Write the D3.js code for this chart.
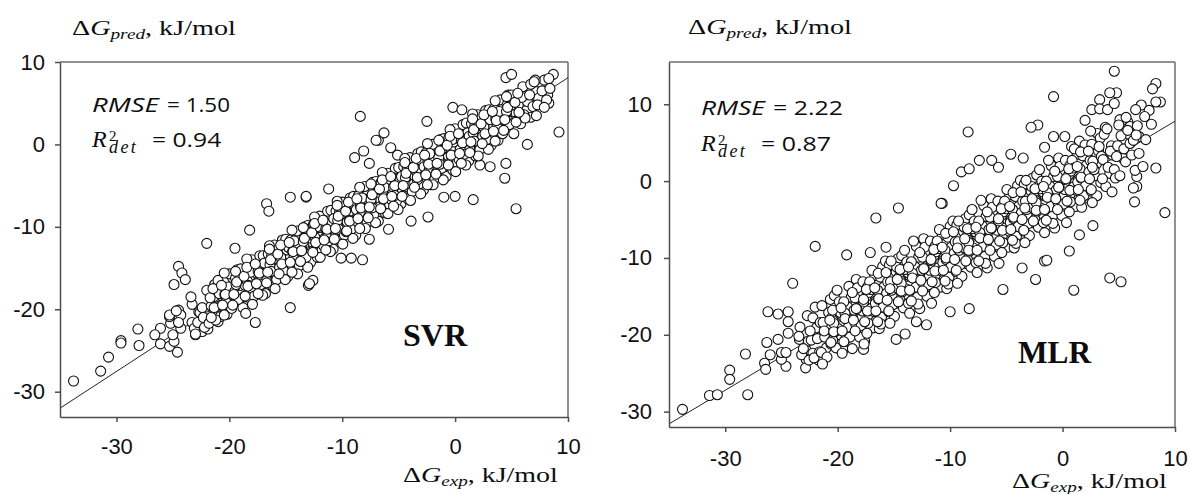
<!DOCTYPE html>
<html>
<head>
<meta charset="utf-8">
<script src="https://cdn.jsdelivr.net/npm/d3@7"></script>
<style>
  body { margin: 0; background: #fff; }
</style>
</head>
<body>
<svg id="chart" width="1189" height="494"></svg>
<script>
// Axis ticks shared by both panels
const xTicks = [-30, -20, -10, 0, 10];
const yTicks = [-30, -20, -10, 0, 10];

// Regression lines (endpoints across the plotted range)
const svrFitLine = [[-35, -32.0], [10, 8.1]];
const mlrFitLine = [[-35, -31.6], [10, 7.8]];

// Fit statistics
const svrStats = ["1.50", "0.94"];
const mlrStats = ["2.22", "0.87"];

// SVR: [ΔG_exp, ΔG_pred]
const svrPoints = [
  [-33.8,-28.7],[-31.4,-27.5],[-30.7,-25.8],[-29.6,-23.8],[-29.6,-24.1],[-28.1,-22.4],[-28.0,-24.4],
  [-26.1,-22.3],[-26.6,-23.1],[-26.1,-24.2],[-24.6,-25.2],[-25.3,-24.5],[-24.9,-23.9],[-25.0,-23.1],
  [-24.3,-22.3],[-25.2,-21.7],[-24.5,-20.1],[-24.3,-20.7],[-25.3,-20.9],[-24.5,-21.6],[-23.3,-21.6],
  [-22.7,-20.3],[-23.0,-23.1],[-22.4,-22.7],[-21.9,-22.4],[-21.0,-21.5],[-21.4,-20.5],[-17.7,-21.6],
  [-14.6,-19.8],[-22.0,-12.0],[-19.5,-12.6],[-18.2,-10.4],[-16.7,-7.2],[-16.5,-8.1],[-13.0,-17.1],
  [-12.6,-16.5],[-8.2,-14.0],[-9.2,-13.8],[-10.1,-13.8],[-2.4,-8.8],[-3.9,-9.3],[-5.9,-10.3],[-7.6,-11.5],
  [-24.5,-14.8],[-24.2,-15.6],[-23.9,-16.4],[-24.9,-17.0],[-25.3,-20.7],[-24.7,-20.2],[-14.6,-6.4],
  [-13.2,-6.4],[-11.2,-5.4],[-12.9,-16.9],[-8.4,3.4],[9.2,1.5],[6.4,0.0],[5.4,-7.8],[4.4,-4.1],[4.5,-2.3],
  [1.6,-6.7],[8.7,8.5],[7.9,7.8],[8.2,6.0],[8.3,5.0],[7.1,7.8],[4.5,8.1],[5.0,8.5],[-0.2,4.5],[0.6,4.2],
  [-2.5,2.8],[-13.2,-6.3],[-8.9,-1.6],[-8.1,-0.8],[-6.8,0.5],[-6.3,1.4],[-7.0,0.5],[-5.7,-0.4],[-5.1,-1.3],
  [-7.6,-2.3],[-1.0,-6.4],[0.0,-6.3],[3.1,-2.7],[2.2,-2.5],[6.7,5.8],[6.4,6.4],[7.2,6.4],[6.7,3.3],
  [5.8,2.9],[4.7,6.0],[3.9,5.0],
  [-22.6,-20.4],[-23.1,-22.3],[-23.3,-19.4],[-22.8,-21.6],[-23.4,-18.5],[-23.0,-23.0],
  [-22.4,-19.8],[-21.9,-20.9],[-21.7,-18.1],[-22.2,-22.2],[-21.6,-19.6],[-22.0,-17.7],[-22.3,-21.0],[-21.8,-21.7],
  [-20.6,-18.5],[-21.1,-19.7],[-21.3,-17.0],[-20.8,-20.9],[-21.4,-18.5],[-21.0,-16.5],[-20.7,-19.5],[-21.2,-21.3],[-20.9,-18.1],
  [-20.4,-18.2],[-19.9,-19.4],[-19.7,-16.2],[-20.2,-20.6],[-19.6,-17.5],[-20.0,-15.7],[-20.3,-19.1],[-19.8,-19.9],[-20.1,-17.3],[-19.55,-17.9],[-20.45,-15.6],
  [-18.6,-17.1],[-19.1,-18.3],[-19.3,-15.2],[-18.8,-19.8],[-19.4,-17.0],[-19.0,-15.1],[-18.7,-18.5],[-19.2,-18.8],[-18.9,-16.2],[-19.45,-16.2],[-18.55,-20.5],
  [-18.4,-16.6],[-17.9,-17.8],[-17.7,-14.7],[-18.2,-18.6],[-17.6,-15.6],[-18.0,-14.0],[-18.3,-17.1],[-17.8,-18.4],[-18.1,-15.5],[-17.55,-16.8],[-18.45,-13.9],[-17.95,-19.4],
  [-16.6,-15.2],[-17.1,-16.5],[-17.3,-13.5],[-16.8,-18.1],[-17.4,-15.1],[-17.0,-13.5],[-16.7,-16.5],[-17.2,-17.0],[-16.9,-14.4],[-17.45,-15.4],[-16.55,-13.3],[-17.05,-18.3],
  [-16.4,-14.6],[-15.9,-15.8],[-15.7,-12.8],[-16.2,-17.1],[-15.6,-14.0],[-16.0,-12.2],[-16.3,-15.4],[-15.8,-16.4],[-16.1,-13.9],[-15.55,-14.9],[-16.45,-12.3],[-15.95,-17.5],[-16.25,-13.5],
  [-14.6,-13.6],[-15.1,-15.0],[-15.3,-11.6],[-14.8,-16.0],[-15.4,-13.2],[-15.0,-11.5],[-14.7,-14.9],[-15.2,-15.3],[-14.9,-12.8],[-15.45,-13.7],[-14.55,-11.6],[-15.05,-16.4],[-14.75,-12.5],
  [-14.4,-13.0],[-13.9,-13.9],[-13.7,-11.0],[-14.2,-15.4],[-13.6,-12.2],[-14.0,-10.5],[-14.3,-13.8],[-13.8,-14.7],[-14.1,-12.0],[-13.55,-12.9],[-14.45,-10.4],[-13.95,-15.7],[-14.25,-11.7],[-13.65,-14.1],
  [-12.6,-11.9],[-13.1,-13.4],[-13.3,-10.0],[-12.8,-14.3],[-13.4,-11.6],[-13.0,-9.8],[-12.7,-13.0],[-13.2,-13.7],[-12.9,-10.9],[-13.45,-11.8],[-12.55,-9.7],[-13.05,-14.9],[-12.75,-11.4],[-13.35,-10.2],
  [-12.4,-11.3],[-11.9,-12.1],[-11.7,-9.3],[-12.2,-13.7],[-11.6,-10.2],[-12.0,-8.7],[-12.3,-11.9],[-11.8,-12.9],[-12.1,-10.1],[-11.55,-11.4],[-12.45,-8.8],[-11.95,-13.7],[-12.25,-10.0],[-11.65,-12.3],
  [-10.6,-10.2],[-11.1,-11.4],[-11.3,-8.1],[-10.8,-12.7],[-11.4,-9.6],[-11.0,-8.0],[-10.7,-11.3],[-11.2,-11.7],[-10.9,-9.5],[-11.45,-10.2],[-10.55,-8.1],[-11.05,-13.0],[-10.75,-9.0],[-11.35,-11.3],
  [-10.4,-9.2],[-9.9,-10.4],[-9.7,-7.4],[-10.2,-11.6],[-9.6,-9.0],[-10.0,-7.0],[-10.3,-10.3],[-9.8,-11.0],[-10.1,-8.5],[-9.55,-9.4],[-10.45,-6.9],[-9.95,-12.1],[-10.25,-8.3],[-9.65,-10.6],
  [-8.6,-8.6],[-9.1,-9.7],[-9.3,-6.5],[-8.8,-11.0],[-9.4,-7.7],[-9.0,-6.3],[-8.7,-9.3],[-9.2,-10.3],[-8.9,-7.4],[-9.45,-8.3],[-8.55,-6.2],[-9.05,-11.4],[-8.75,-7.9],[-9.35,-9.2],
  [-8.4,-7.5],[-7.9,-8.8],[-7.7,-5.8],[-8.2,-9.9],[-7.6,-7.1],[-8.0,-5.1],[-8.3,-8.6],[-7.8,-9.5],[-8.1,-6.6],[-7.55,-7.7],[-8.45,-5.2],[-7.95,-10.2],[-8.25,-6.5],[-7.65,-8.7],
  [-6.6,-6.7],[-7.1,-7.7],[-7.3,-4.6],[-6.8,-9.3],[-7.4,-6.3],[-7.0,-4.5],[-6.7,-7.6],[-7.2,-8.5],[-6.9,-5.8],[-7.45,-6.7],[-6.55,-4.6],[-7.05,-9.5],[-6.75,-5.5],[-7.35,-7.7],
  [-6.4,-5.6],[-5.9,-7.2],[-5.7,-3.9],[-6.2,-8.3],[-5.6,-5.2],[-6.0,-3.5],[-6.3,-6.9],[-5.8,-7.3],[-6.1,-4.8],[-5.55,-5.9],[-6.45,-3.4],[-5.95,-8.4],[-6.25,-5.2],[-5.65,-6.7],
  [-4.6,-5.2],[-5.1,-6.0],[-5.3,-2.9],[-4.8,-7.2],[-5.4,-4.1],[-5.0,-2.8],[-4.7,-5.8],[-5.2,-6.9],[-4.9,-4.1],[-5.45,-5.2],[-4.55,-2.7],[-5.05,-7.9],[-4.75,-3.9],[-5.35,-6.2],
  [-4.4,-4.0],[-3.9,-5.3],[-3.7,-2.3],[-4.2,-6.6],[-3.6,-3.8],[-4.0,-1.6],[-4.3,-5.1],[-3.8,-5.7],[-4.1,-3.1],[-3.55,-3.9],[-4.45,-1.7],[-3.95,-6.8],[-4.25,-2.9],[-3.65,-4.8],
  [-2.6,-3.3],[-3.1,-4.4],[-3.3,-1.1],[-2.8,-5.5],[-3.4,-2.5],[-3.0,-0.9],[-2.7,-4.1],[-3.2,-4.8],[-2.9,-2.1],[-3.45,-3.2],[-2.55,-1.0],[-3.05,-6.0],[-2.75,-2.7],[-3.35,-4.3],
  [-2.4,-2.1],[-1.9,-3.3],[-1.7,-0.4],[-2.2,-4.9],[-1.6,-1.8],[-2.0,0.0],[-2.3,-3.1],[-1.8,-4.1],[-2.1,-1.4],[-1.55,-2.3],[-2.45,0.1],[-1.95,-4.9],[-2.25,-1.1],[-1.65,-3.4],
  [-0.6,-1.4],[-1.1,-2.8],[-1.3,0.6],[-0.8,-3.9],[-1.4,-1.0],[-1.0,0.7],[-0.7,-2.5],[-1.2,-2.9],[-0.9,-0.5],[-1.45,-1.6],[-0.55,0.8],[-1.05,-4.3],[-0.75,-0.4],[-1.35,-2.4],
  [-0.4,-0.5],[0.1,-1.6],[0.3,1.3],[-0.2,-3.1],[0.4,0.1],[0.0,1.9],[-0.3,-1.6],[0.2,-2.2],[-0.1,0.3],[0.45,-0.6],[-0.45,1.8],[0.05,-3.3],[-0.25,0.6],[0.35,-1.8],
  [1.4,0.2],[0.9,-0.9],[0.7,2.4],[1.2,-2.0],[0.6,1.0],[1.0,2.6],[1.3,-0.6],[0.8,-1.2],[1.1,1.4],[0.55,0.4],[1.45,2.5],[0.95,-2.5],[1.25,1.0],
  [1.6,1.4],[2.1,0.2],[2.3,3.1],[1.8,-1.4],[2.4,1.6],[2.0,3.6],[1.7,0.4],[2.2,-0.6],[1.9,2.2],[2.45,1.0],[1.55,3.7],[2.05,-1.4],[1.75,2.3],
  [3.4,2.1],[2.9,0.9],[2.7,4.1],[3.2,-0.1],[2.6,2.7],[3.0,4.2],[3.3,1.0],[2.8,0.6],[3.1,3.0],[2.55,2.1],[3.45,4.3],[2.95,-0.6],
  [3.6,3.1],[4.1,1.6],[4.3,4.8],[3.8,0.5],[4.4,3.5],[4.0,5.4],[3.7,2.1],[4.2,1.3],[3.9,4.0],[4.45,2.9],[3.55,5.3],
  [5.4,3.8],[4.9,2.8],[4.7,5.9],[5.2,1.3],[4.6,4.8],[5.0,6.0],[5.3,2.8],[4.8,2.4],[5.1,4.8],[4.55,4.0],
  [5.6,4.8],[6.1,3.6],[6.3,6.6],[5.8,2.5],[6.4,5.2],[6.0,7.0],[5.7,3.8],[6.2,3.2],[5.9,5.7],
  [7.4,5.6],[6.9,4.6],[6.7,7.3],[7.2,3.5],[6.6,6.0],[7.0,7.6],[7.3,4.8],
  [7.7,6.5],[8.1,5.4],[8.3,8.0],[7.9,4.5],[8.4,6.8],
  [-21.6,-21.0],[-21.35,-19.8],[-21.7,-18.6],[-21.45,-17.5],
  [-20.6,-19.5],[-20.35,-18.2],[-20.7,-17.1],[-20.45,-20.7],
  [-19.6,-18.2],[-19.35,-16.7],[-19.7,-19.5],[-19.45,-15.4],
  [-18.6,-18.4],[-18.35,-17.2],[-18.7,-16.0],[-18.45,-14.9],
  [-17.6,-16.9],[-17.35,-15.6],[-17.7,-14.5],[-17.45,-18.1],
  [-16.6,-15.5],[-16.35,-14.0],[-16.7,-16.8],[-16.45,-12.7],
  [-15.6,-15.7],[-15.35,-14.5],[-15.7,-13.3],[-15.45,-12.2],
  [-14.6,-14.3],[-14.35,-13.0],[-14.7,-11.9],[-14.45,-15.5],
  [-13.6,-12.9],[-13.35,-11.4],[-13.7,-14.2],[-13.45,-10.1],
  [-12.6,-13.1],[-12.35,-11.9],[-12.7,-10.7],[-12.45,-9.6],
  [-11.6,-11.6],[-11.35,-10.3],[-11.7,-9.2],[-11.45,-12.8],
  [-10.6,-10.2],[-10.35,-8.7],[-10.7,-11.5],[-10.45,-7.4],
  [-9.6,-10.5],[-9.35,-9.3],[-9.7,-8.1],[-9.45,-7.0],
  [-8.6,-9.0],[-8.35,-7.7],[-8.7,-6.6],[-8.45,-10.2],
  [-7.6,-7.6],[-7.35,-6.1],[-7.7,-8.9],[-7.45,-4.8],
  [-6.6,-7.8],[-6.35,-6.6],[-6.7,-5.4],[-6.45,-4.3],
  [-5.6,-6.3],[-5.35,-5.0],[-5.7,-3.9],[-5.45,-7.5],
  [-4.6,-5.0],[-4.35,-3.5],[-4.7,-6.3],[-4.45,-2.2],
  [-3.6,-5.2],[-3.35,-4.0],[-3.7,-2.8],[-3.45,-1.7],
  [-2.6,-3.7],[-2.35,-2.4],[-2.7,-1.3],[-2.45,-4.9],
  [-1.6,-2.3],[-1.35,-0.8],[-1.7,-3.6],[-1.45,0.5],
  [-0.6,-2.5],[-0.35,-1.3],[-0.7,-0.1],[-0.45,1.0],
  [0.4,-1.1],[0.65,0.2],[0.3,1.3],[0.55,-2.3],
  [1.4,0.3],[1.65,1.8],[1.3,-1.0],[1.55,3.1],
  [2.4,0.1],[2.65,1.3],[2.3,2.5],[2.55,3.6],
  [3.4,1.6],[3.65,2.9],[3.3,4.0],[3.55,0.4],
  [4.4,3.0],[4.65,4.5],[4.3,1.7],[4.55,5.8],
  [5.4,2.7],[5.65,3.9],[5.3,5.1],[5.55,6.2]
];

// MLR: [ΔG_exp, ΔG_pred]
const mlrPoints = [
  [-33.8,-29.7],[-31.4,-27.9],[-30.7,-27.8],[-29.6,-24.6],[-29.6,-25.8],[-28.2,-22.5],[-28.0,-27.8],
  [-26.5,-23.7],[-26.4,-24.5],[-26.2,-17.0],[-26.3,-21.0],[-26.0,-22.6],[-25.3,-17.3],[-24.4,-17.0],
  [-24.4,-18.3],[-24.6,-24.1],[-25.0,-23.2],[-25.0,-22.3],[-24.6,-22.3],[-25.3,-20.6],[-24.4,-19.8],
  [-23.4,-20.6],[-22.8,-23.2],[-22.8,-22.0],[-22.2,-22.4],[-21.0,-21.7],[-19.5,-21.9],[-17.7,-21.9],
  [-17.6,-20.8],[-14.8,-20.6],[-24.0,-13.3],[-22.0,-8.5],[-19.2,-9.6],[-16.6,-4.8],[-14.6,-3.5],
  [-17.1,-9.3],[-15.7,-8.6],[-10.7,-2.9],[-14.0,-19.9],[-12.1,-18.7],[-13.0,-18.3],[-10.0,-17.0],
  [-8.3,-16.6],[-5.3,-14.1],[-2.4,-12.8],[-3.6,-11.3],[-1.6,-10.4],[-1.4,-10.3],[0.6,-9.1],[1.0,-14.2],
  [1.5,-7.0],[2.7,-5.8],[4.2,-12.6],[5.2,-13.1],
  [4.6,14.3],[-0.8,11.0],[-8.4,6.4],[9.1,-4.1],[8.3,1.7],[8.3,12.7],[8.0,12.0],[8.7,10.3],[8.3,10.3],
  [7.0,9.9],[7.7,9.2],[6.5,9.3],[7.9,7.4],[4.8,11.5],[4.2,11.5],[3.3,10.6],[2.6,9.3],[3.3,9.4],[4.0,9.3],
  [4.6,10.1],[5.1,8.0],[5.8,7.7],[5.7,6.8],[6.6,0.6],[6.6,-0.7],[6.8,5.8],[-0.8,5.8],[0.2,5.8],[-2.2,7.3],
  [-2.8,7.0],[-7.4,2.7],[-6.3,2.7],[-5.7,1.8],[-9.0,1.2],[-8.3,1.6],[-9.7,-0.6],[-10.8,-2.9],[4.9,4.0],
  [3.1,6.2],[2.0,7.9],[6.4,-2.7],[6.3,-0.9],[1.5,5.2],[2.5,6.5],[5.5,5.0],[3.8,7.0],[0.8,4.5],[-1.6,4.4],
  [-3.5,3.0],[-4.6,3.5],[6.0,7.1],[7.3,8.4],
  [-22.6,-20.8],[-23.2,-22.6],[-23.35,-19.0],[-22.85,-24.3],[-23.45,-20.2],[-22.7,-17.5],[-23.05,-21.8],[-22.55,-23.3],
  [-22.35,-20.7],[-21.9,-19.1],[-21.6,-22.2],[-22.2,-17.8],[-21.7,-23.3],[-22.45,-19.5],[-22.0,-16.4],[-21.8,-20.5],[-22.1,-23.0],[-21.55,-18.4],
  [-21.0,-18.8],[-20.6,-21.2],[-21.3,-18.4],[-21.45,-22.3],[-20.8,-17.1],[-21.15,-20.3],[-20.65,-15.4],[-21.4,-16.2],[-20.95,-22.9],[-21.2,-19.5],[-20.55,-17.8],[-21.35,-23.8],
  [-20.4,-18.2],[-19.8,-20.0],[-19.65,-16.4],[-20.15,-21.7],[-19.55,-17.6],[-20.3,-14.9],[-19.95,-19.2],[-20.45,-20.7],[-19.75,-17.1],[-20.05,-14.2],[-19.6,-22.4],[-20.25,-19.6],[-19.85,-15.7],[-20.35,-18.5],
  [-18.65,-18.0],[-19.1,-16.4],[-19.4,-19.5],[-18.8,-15.1],[-19.3,-20.6],[-18.55,-16.8],[-19.0,-13.7],[-19.2,-17.8],[-18.9,-20.3],[-19.45,-15.7],[-18.7,-21.8],[-19.35,-17.2],[-18.6,-14.6],[-19.05,-19.0],
  [-18.0,-16.2],[-18.4,-18.6],[-17.7,-15.8],[-17.55,-19.7],[-18.2,-14.5],[-17.85,-17.7],[-18.35,-12.8],[-17.6,-13.6],[-18.05,-20.3],[-17.8,-16.9],[-18.45,-15.2],[-17.65,-21.2],[-18.25,-13.9],[-17.9,-18.8],[-18.3,-16.6],[-17.75,-13.1],
  [-16.6,-15.6],[-17.2,-17.4],[-17.35,-13.8],[-16.85,-19.1],[-17.45,-15.0],[-16.7,-12.3],[-17.05,-16.6],[-16.55,-18.1],[-17.25,-14.5],[-16.95,-11.6],[-17.4,-19.8],[-16.75,-17.0],[-17.15,-13.1],[-16.65,-15.9],[-17.3,-18.5],[-17.0,-14.1],
  [-16.35,-15.4],[-15.9,-13.8],[-15.6,-16.9],[-16.2,-12.5],[-15.7,-18.0],[-16.45,-14.2],[-16.0,-11.1],[-15.8,-15.2],[-16.1,-17.7],[-15.55,-13.1],[-16.3,-19.2],[-15.65,-14.6],[-16.4,-12.0],[-15.95,-16.4],[-15.75,-10.4],[-16.15,-18.6],
  [-15.0,-13.5],[-14.6,-15.9],[-15.3,-13.1],[-15.45,-17.0],[-14.8,-11.8],[-15.15,-15.0],[-14.65,-10.1],[-15.4,-10.9],[-14.95,-17.6],[-15.2,-14.2],[-14.55,-12.5],[-15.35,-18.5],[-14.75,-11.2],[-15.1,-16.1],[-14.7,-13.9],[-15.25,-10.4],
  [-14.4,-13.0],[-13.8,-14.8],[-13.65,-11.2],[-14.15,-16.5],[-13.55,-12.4],[-14.3,-9.7],[-13.95,-14.0],[-14.45,-15.5],[-13.75,-11.9],[-14.05,-9.0],[-13.6,-17.2],[-14.25,-14.4],[-13.85,-10.5],[-14.35,-13.3],[-13.7,-15.9],[-14.0,-11.5],
  [-12.65,-12.8],[-13.1,-11.2],[-13.4,-14.3],[-12.8,-9.9],[-13.3,-15.4],[-12.55,-11.6],[-13.0,-8.5],[-13.2,-12.6],[-12.9,-15.1],[-13.45,-10.5],[-12.7,-16.6],[-13.35,-12.0],[-12.6,-9.4],[-13.05,-13.8],[-13.25,-7.8],[-12.85,-16.0],
  [-12.0,-10.9],[-12.4,-13.3],[-11.7,-10.5],[-11.55,-14.4],[-12.2,-9.2],[-11.85,-12.4],[-12.35,-7.5],[-11.6,-8.3],[-12.05,-15.0],[-11.8,-11.6],[-12.45,-9.9],[-11.65,-15.9],[-12.25,-8.6],[-11.9,-13.5],[-12.3,-11.3],[-11.75,-7.8],
  [-10.6,-10.3],[-11.2,-12.1],[-11.35,-8.5],[-10.85,-13.8],[-11.45,-9.7],[-10.7,-7.0],[-11.05,-11.3],[-10.55,-12.8],[-11.25,-9.2],[-10.95,-6.3],[-11.4,-14.5],[-10.75,-11.7],[-11.15,-7.8],[-10.65,-10.6],[-11.3,-13.2],[-11.0,-8.8],
  [-10.35,-10.2],[-9.9,-8.6],[-9.6,-11.7],[-10.2,-7.3],[-9.7,-12.8],[-10.45,-9.0],[-10.0,-5.9],[-9.8,-10.0],[-10.1,-12.5],[-9.55,-7.9],[-10.3,-14.0],[-9.65,-9.4],[-10.4,-6.8],[-9.95,-11.2],[-9.75,-5.2],[-10.15,-13.4],
  [-9.0,-8.3],[-8.6,-10.7],[-9.3,-7.9],[-9.45,-11.8],[-8.8,-6.6],[-9.15,-9.8],[-8.65,-4.9],[-9.4,-5.7],[-8.95,-12.4],[-9.2,-9.0],[-8.55,-7.3],[-9.35,-13.3],[-8.75,-6.0],[-9.1,-10.9],[-8.7,-8.7],[-9.25,-5.2],
  [-8.4,-7.7],[-7.8,-9.5],[-7.65,-5.9],[-8.15,-11.2],[-7.55,-7.1],[-8.3,-4.4],[-7.95,-8.7],[-8.45,-10.2],[-7.75,-6.6],[-8.05,-3.7],[-7.6,-11.9],[-8.25,-9.1],[-7.85,-5.2],[-8.35,-8.0],[-7.7,-10.6],[-8.0,-6.2],
  [-6.65,-7.5],[-7.1,-5.9],[-7.4,-9.0],[-6.8,-4.6],[-7.3,-10.1],[-6.55,-6.3],[-7.0,-3.2],[-7.2,-7.3],[-6.9,-9.8],[-7.45,-5.2],[-6.7,-11.3],[-7.35,-6.7],[-6.6,-4.1],[-7.05,-8.5],[-7.25,-2.5],[-6.85,-10.7],
  [-6.0,-5.7],[-6.4,-8.1],[-5.7,-5.3],[-5.55,-9.2],[-6.2,-4.0],[-5.85,-7.2],[-6.35,-2.3],[-5.6,-3.1],[-6.05,-9.8],[-5.8,-6.4],[-6.45,-4.7],[-5.65,-10.7],[-6.25,-3.4],[-5.9,-8.3],[-6.3,-6.1],[-5.75,-2.6],
  [-4.6,-5.1],[-5.2,-6.9],[-5.35,-3.3],[-4.85,-8.6],[-5.45,-4.5],[-4.7,-1.8],[-5.05,-6.1],[-4.55,-7.6],[-5.25,-4.0],[-4.95,-1.1],[-5.4,-9.3],[-4.75,-6.5],[-5.15,-2.6],[-4.65,-5.4],[-5.3,-8.0],[-5.0,-3.6],
  [-4.35,-4.9],[-3.9,-3.3],[-3.6,-6.4],[-4.2,-2.0],[-3.7,-7.5],[-4.45,-3.7],[-4.0,-0.6],[-3.8,-4.7],[-4.1,-7.2],[-3.55,-2.6],[-4.3,-8.7],[-3.65,-4.1],[-4.4,-1.5],[-3.95,-5.9],[-3.75,0.1],[-4.15,-8.1],
  [-3.0,-3.0],[-2.6,-5.4],[-3.3,-2.6],[-3.45,-6.5],[-2.8,-1.3],[-3.15,-4.5],[-2.65,0.4],[-3.4,-0.4],[-2.95,-7.1],[-3.2,-3.7],[-2.55,-2.0],[-3.35,-8.0],[-2.75,-0.7],[-3.1,-5.6],[-2.7,-3.4],[-3.25,0.1],
  [-2.4,-2.5],[-1.8,-4.3],[-1.65,-0.7],[-2.15,-6.0],[-1.55,-1.9],[-2.3,0.8],[-1.95,-3.5],[-2.45,-5.0],[-1.75,-1.4],[-2.05,1.5],[-1.6,-6.7],[-2.25,-3.9],[-1.85,0.0],[-2.35,-2.8],[-1.7,-5.4],[-2.0,-1.0],
  [-0.65,-2.3],[-1.1,-0.7],[-1.4,-3.8],[-0.8,0.6],[-1.3,-4.9],[-0.55,-1.1],[-1.0,2.0],[-1.2,-2.1],[-0.9,-4.6],[-1.45,0.0],[-0.7,-6.1],[-1.35,-1.5],[-0.6,1.1],[-1.05,-3.3],[-1.25,2.7],[-0.85,-5.5],
  [0.0,-0.4],[-0.4,-2.8],[0.3,0.0],[0.45,-3.9],[-0.2,1.3],[0.15,-1.9],[-0.35,3.0],[0.4,2.2],[-0.05,-4.5],[0.2,-1.1],[-0.45,0.6],[0.35,-5.4],[-0.25,1.9],[0.1,-3.0],[-0.3,-0.8],[0.25,2.7],
  [1.4,0.2],[0.8,-1.6],[0.65,2.0],[1.15,-3.3],[0.55,0.8],[1.3,3.5],[0.95,-0.8],[1.45,-2.3],[0.75,1.3],[1.05,4.2],[0.6,-4.0],[1.25,-1.2],[0.85,2.7],[1.35,-0.1],[0.7,-2.7],[1.0,1.7],
  [1.65,0.4],[2.1,2.0],[2.4,-1.1],[1.8,3.3],[2.3,-2.2],[1.55,1.6],[2.0,4.7],[2.2,0.6],[1.9,-1.9],[2.45,2.7],[1.7,-3.4],[2.35,1.2],[1.6,3.8],[2.05,-0.6],
  [3.0,2.2],[3.4,-0.2],[2.7,2.6],[2.55,-1.3],[3.2,3.9],[2.85,0.7],[3.35,5.6],[2.6,4.8],[3.05,-1.9],[2.8,1.5],[3.45,3.2],[2.65,-2.8],[3.25,4.5],
  [3.6,2.8],[4.2,1.0],[4.35,4.6],[3.85,-0.7],[4.45,3.4],[3.7,6.1],[4.05,1.8],[3.55,0.3],[4.25,3.9],[3.95,6.8],[4.4,-1.4],
  [5.35,3.0],[4.9,4.6],[4.6,1.5],[5.2,5.9],[4.7,0.4],[5.45,4.2],[5.0,7.3],[4.8,3.2],[5.1,0.7],
  [6.0,4.9],[5.6,2.5],[6.3,5.3],[6.45,1.4],[5.8,6.6],[6.15,3.4],[5.65,8.3],
  [7.4,5.4],[6.8,3.6],[6.65,7.2],[7.15,1.9],[6.55,6.0],
  [-20.6,-21.0],[-20.35,-19.6],[-20.7,-18.1],[-20.45,-16.8],
  [-19.6,-19.5],[-19.35,-17.9],[-19.7,-16.5],[-19.45,-20.9],
  [-18.6,-18.1],[-18.35,-16.6],[-18.7,-14.5],[-18.45,-19.5],
  [-17.6,-18.3],[-17.35,-16.9],[-17.7,-15.4],[-17.45,-14.1],
  [-16.6,-16.9],[-16.35,-15.3],[-16.7,-13.9],[-16.45,-18.3],
  [-15.6,-15.5],[-15.35,-14.0],[-15.7,-11.9],[-15.45,-16.9],
  [-14.6,-15.7],[-14.35,-14.3],[-14.7,-12.8],[-14.45,-11.5],
  [-13.6,-14.2],[-13.35,-12.6],[-13.7,-11.2],[-13.45,-15.6],
  [-12.6,-12.9],[-12.35,-11.4],[-12.7,-9.3],[-12.45,-14.3],
  [-11.6,-13.1],[-11.35,-11.7],[-11.7,-10.2],[-11.45,-8.9],
  [-10.6,-11.6],[-10.35,-10.0],[-10.7,-8.6],[-10.45,-13.0],
  [-9.6,-10.2],[-9.35,-8.7],[-9.7,-6.6],[-9.45,-11.6],
  [-8.6,-10.4],[-8.35,-9.0],[-8.7,-7.5],[-8.45,-6.2],
  [-7.6,-9.0],[-7.35,-7.4],[-7.7,-6.0],[-7.45,-10.4],
  [-6.6,-7.6],[-6.35,-6.1],[-6.7,-4.0],[-6.45,-9.0],
  [-5.6,-7.8],[-5.35,-6.4],[-5.7,-4.9],[-5.45,-3.6],
  [-4.6,-6.3],[-4.35,-4.7],[-4.7,-3.3],[-4.45,-7.7],
  [-3.6,-5.0],[-3.35,-3.5],[-3.7,-1.4],[-3.45,-6.4],
  [-2.6,-5.2],[-2.35,-3.8],[-2.7,-2.3],[-2.45,-1.0],
  [-1.6,-3.7],[-1.35,-2.1],[-1.7,-0.7],[-1.45,-5.1],
  [-0.6,-2.3],[-0.35,-0.8],[-0.7,1.3],[-0.45,-3.7],
  [0.4,-2.6],[0.65,-1.2],[0.3,0.3],[0.55,1.6],
  [1.4,-1.1],[1.65,0.5],[1.3,1.9],[1.55,-2.5],
  [2.4,0.3],[2.65,1.8],[2.3,3.9],[2.55,-1.1]
];

const svg = d3.select("#chart");
const AXIS = "#4d4d4d";
const FRAME = "#6e6e6e";
const INK = "#0d0d0d";
const STAT_FONT = "Open Sans, Calibri, sans-serif";

// Stretch a text element horizontally so that it spans [x, x + width]
function fitText(sel, x, width) {
  const w = sel.node().getBBox().width;
  sel.attr("x", 0).attr("transform", `translate(${x},0) scale(${width / w},1)`);
}

// "ΔG_sub, kJ/mol" axis caption
function deltaGLabel(x, y, width, sub) {
  const t = svg.append("text")
    .attr("y", y)
    .attr("font-family", "Liberation Serif, Times New Roman, serif")
    .attr("font-size", 22)
    .attr("fill", INK);
  t.append("tspan").text("Δ");
  t.append("tspan").attr("font-style", "italic").text("G");
  t.append("tspan").attr("font-style", "italic").attr("font-size", 15).attr("dy", 4).text(sub);
  t.append("tspan").attr("dy", -4).text(", kJ/mol");
  fitText(t, x, width);
}

function drawPanel(cfg) {
  const x = d3.scaleLinear().domain([-35, 10]).range([cfg.left, cfg.right]);
  const y = d3.scaleLinear().domain(cfg.yDomain).range([cfg.bottom, cfg.top]);
  const g = svg.append("g");

  // top and right frame
  g.append("line")
    .attr("x1", cfg.left).attr("x2", cfg.right)
    .attr("y1", cfg.top).attr("y2", cfg.top)
    .attr("stroke", FRAME).attr("stroke-width", 1.5);
  g.append("line")
    .attr("x1", cfg.right).attr("x2", cfg.right)
    .attr("y1", cfg.top).attr("y2", cfg.bottom)
    .attr("stroke", FRAME).attr("stroke-width", 1.5);

  // regression line
  g.append("path")
    .datum(cfg.fit)
    .attr("d", d3.line().x(d => x(d[0])).y(d => y(d[1])))
    .attr("fill", "none")
    .attr("stroke", "#222")
    .attr("stroke-width", 1);

  // data points
  g.append("g").selectAll("circle")
    .data(cfg.points)
    .join("circle")
    .attr("cx", d => x(d[0]))
    .attr("cy", d => y(d[1]))
    .attr("r", 5)
    .attr("fill", "#fff")
    .attr("stroke", "#111")
    .attr("stroke-width", 1.1);

  const fmt = d => String(d);

  const xa = g.append("g")
    .attr("transform", `translate(0,${cfg.bottom})`)
    .call(d3.axisBottom(x).tickValues(xTicks).tickSize(5).tickSizeOuter(0)
      .tickPadding(cfg.xPad).tickFormat(fmt));
  const ya = g.append("g")
    .attr("transform", `translate(${cfg.left},0)`)
    .call(d3.axisLeft(y).tickValues(yTicks).tickSize(5).tickSizeOuter(0)
      .tickPadding(cfg.yPad).tickFormat(fmt));

  [xa, ya].forEach(a => {
    a.select(".domain").attr("stroke", AXIS).attr("stroke-width", 1.5);
    a.selectAll(".tick line").attr("stroke", AXIS).attr("stroke-width", 1.5);
    a.selectAll(".tick text")
      .attr("font-family", "Liberation Sans, Arial, sans-serif")
      .attr("font-size", 22)
      .attr("fill", "#111");
  });

  // statistics block
  const s = cfg.stats;
  const rm = svg.append("text").attr("y", s.y1)
    .attr("font-family", STAT_FONT).attr("font-size", 20)
    .attr("font-style", "italic").attr("fill", INK).text("RMSE");
  fitText(rm, s.x, s.rmseW);
  const rv = svg.append("text").attr("y", s.y1)
    .attr("font-family", STAT_FONT).attr("font-size", 20)
    .attr("fill", INK).text("= " + cfg.values[0]);
  fitText(rv, s.eq1, s.eq1W);

  // R² with "det" subscript stacked under the exponent
  const rt = svg.append("text").attr("x", s.x).attr("y", s.y2)
    .attr("font-family", "Liberation Serif, serif").attr("fill", INK);
  rt.append("tspan").attr("font-size", 24).attr("font-style", "italic").text("R");
  rt.append("tspan").attr("x", s.x + 17).attr("dy", -6).attr("font-size", 15).text("2");
  rt.append("tspan").attr("x", s.x + 17).attr("dy", 12).attr("font-size", 18)
    .attr("font-style", "italic").attr("letter-spacing", 2.4).text("det");

  const r2 = svg.append("text").attr("y", s.y2)
    .attr("font-family", STAT_FONT).attr("font-size", 20)
    .attr("fill", INK).text("= " + cfg.values[1]);
  fitText(r2, s.x + 60, 70);

  // model name
  const nm = svg.append("text").attr("y", cfg.name.y)
    .attr("font-family", "Liberation Serif, Times New Roman, serif")
    .attr("font-size", 32).attr("font-weight", "bold").attr("fill", INK)
    .text(cfg.name.text);
  fitText(nm, cfg.name.x, cfg.name.w);
}

drawPanel({
  left: 60, right: 568, top: 62, bottom: 417,
  yDomain: [-33.07, 10],
  points: svrPoints, fit: svrFitLine, values: svrStats,
  xPad: 16, yPad: 10,
  stats: { x: 92, y1: 112, y2: 147, rmseW: 69, eq1: 167, eq1W: 63 },
  name: { text: "SVR", x: 403, y: 346, w: 65 }
});

drawPanel({
  left: 669, right: 1175, top: 62, bottom: 427,
  yDomain: [-32, 15.5],
  points: mlrPoints, fit: mlrFitLine, values: mlrStats,
  xPad: 18, yPad: 12,
  stats: { x: 701, y1: 115, y2: 151, rmseW: 66, eq1: 773, eq1W: 70 },
  name: { text: "MLR", x: 1018, y: 363, w: 74 }
});

deltaGLabel(72, 35, 164, "pred");
deltaGLabel(688, 34, 164, "pred");
deltaGLabel(403, 482, 155, "exp");
deltaGLabel(1012, 488, 155, "exp");
</script>
</body>
</html>
